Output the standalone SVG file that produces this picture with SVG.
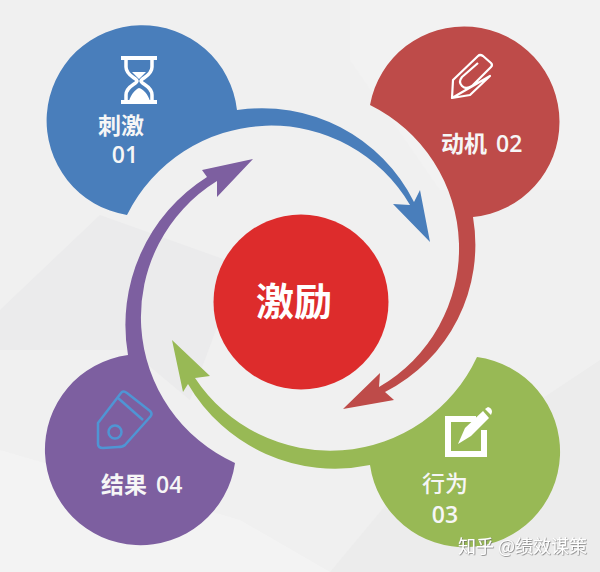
<svg xmlns="http://www.w3.org/2000/svg" width="600" height="572" viewBox="0 0 600 572">
<style>
.t{font-family:"Open Sans","Noto Sans CJK SC",sans-serif;font-weight:600;fill:#f6f6f6;font-size:23px}
.n{font-weight:500}
.wm{font-family:"Noto Sans CJK SC",sans-serif;font-size:18px;fill:#fff;filter:url(#s)}
.i{fill:none;stroke:#fff}
.c{fill:none;stroke:#4f95d4;stroke-width:2.5;stroke-linejoin:round}
</style>
<defs>
<filter id="b" x="-5%" y="-5%" width="110%" height="110%"><feGaussianBlur stdDeviation="0.4"/></filter>
<filter id="s" x="-5%" y="-20%" width="110%" height="140%"><feDropShadow dx="0.6" dy="0.6" stdDeviation="0.5" flood-color="#666"/></filter>
</defs>
<rect width="600" height="572" fill="#f0f0f0"/>
<g id="background">
<polygon points="0,310 100,215 240,265 190,400 130,350 0,350" fill="#ebebec"/>
<polygon points="350,0 600,0 600,190 440,190 350,60" fill="#f2f2f2"/>
<polygon points="330,572 390,500 600,360 600,572" fill="#ececec"/>
<polygon points="0,450 240,520 330,572 0,572" fill="#f3f3f3"/>
</g>
<g id="connectors" filter="url(#b)">
<path id="arrow-blue" fill="#4a7ebb" d="M127 215A95.500 95.500 0 1 1 237 110A170 170 0 0 1 414 202L420 190L430 242L393 204L410 205A161 161 0 0 0 127 215Z"/>
<path id="arrow-red" fill="#be4b48" d="M370 105A95.500 95.500 0 1 1 473 217A165 165 0 0 1 385 392L394 400L343 409L380 373L379 387A160 160 0 0 0 370 105Z"/>
<path id="arrow-green" fill="#98b954" d="M477 357A95.500 95.500 0 1 1 370 465A170 170 0 0 1 188 384L183 392L172 340L210 376L195 378A162 162 0 0 0 477 357Z"/>
<path id="arrow-purple" fill="#7d5fa0" d="M235 463A95.500 95.500 0 1 1 128 355A175 175 0 0 1 207 177L202 170L253 159L217 197L217 181A160 160 0 0 0 235 463Z"/>
</g>
<g id="node-center"><circle cx="301" cy="302" r="87.500" fill="#dd2c2c"/><text x="294" y="315" text-anchor="middle" class="t" style="font-size:38px;fill:#fff;font-weight:700">激励</text></g>
<g id="node-1">
<path d="M121 58H157M121 102H157" class="i" stroke-width="4"/>
<path d="M126 58V67C126 76 137 78 137 81C137 84 126 86 126 95V102M152 58V67C152 76 141 78 141 81C141 84 152 86 152 95V102" class="i" stroke-width="3.500"/>
<path d="M132 72H146L139 79ZM129 101C131 94 136 89 139 88C143 89 148 94 150 101Z" fill="#fff"/>
<text x="98" y="134" class="t">刺激</text><text x="125" y="163" text-anchor="middle" class="t">01</text></g>
<g id="node-2">
<path d="M452 98L453 80L478 56Q480 54 483 56L491 63Q493 65 491 67L472 86Q466 90 462 86Q458 82 462 77L478 63M490 76L470 95L452 98Z" class="i" stroke-width="2.200" stroke-linejoin="round"/>
<text x="441" y="152" class="t">动机<tspan dx="3"> 02</tspan></text></g>
<g id="node-3">
<path d="M476 419H448V454H484V430" class="i" stroke-width="6"/>
<path d="M458 444L465 428L483 411L489 418L471 436Z" fill="#fff"/><path d="M485 409L488 407Q492 408 492 412L491 415Z" fill="#fff"/>
<text x="422" y="492" class="t n">行为</text><text x="445" y="523" text-anchor="middle" class="t">03</text></g>
<g id="node-4">
<path d="M98 423L121 393Q123 390 127 393L150 411Q153 414 150 417L125 445Q123 447 118 447L103 448Q98 448 98 444Z" class="c"/>
<path d="M118 398L143 420" class="c"/>
<circle cx="115" cy="432" r="6.500" class="c"/>
<text x="101" y="493" class="t">结果<tspan dx="3"> 04</tspan></text></g>
<text x="458" y="553" class="wm">知乎 @绩效谋策</text>
</svg>
